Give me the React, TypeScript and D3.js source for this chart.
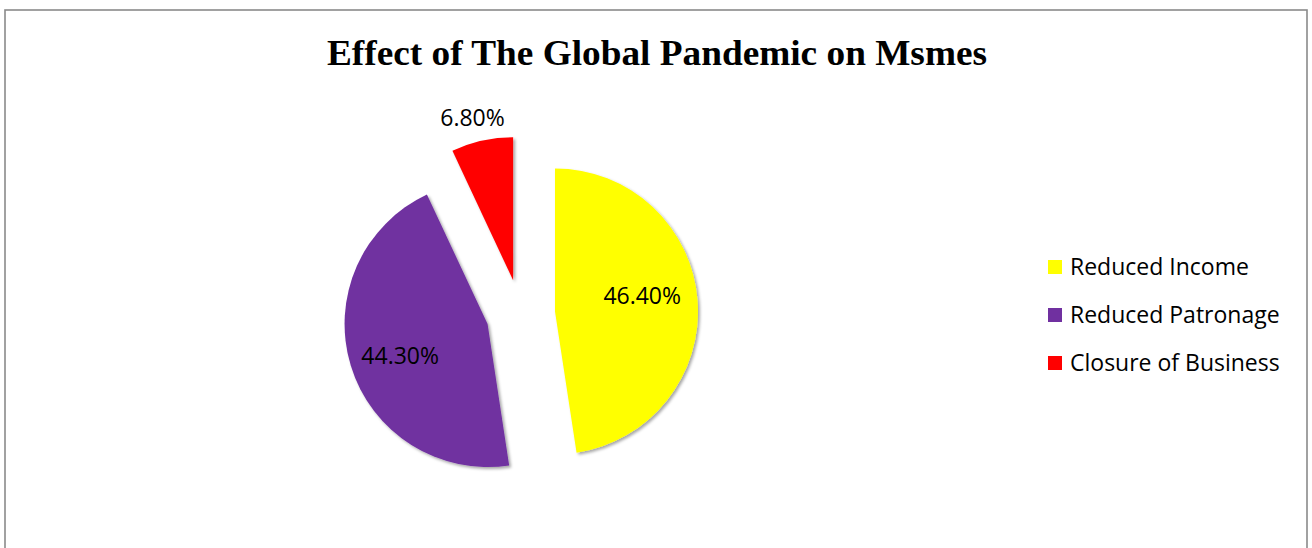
import React from "react";
import * as d3 from "d3";

// Share of MSMEs reporting each effect of the pandemic (percent)
const categories: string[] = ["Reduced Income", "Reduced Patronage", "Closure of Business"];
const values: number[] = [46.4, 44.3, 6.8];
const colors: string[] = ["#FFFF00", "#7030A0", "#FF0000"];
const labelText: string[] = ["46.40%", "44.30%", "6.80%"];
// label placement: angle offset from slice bisector (deg) and radius fraction
const labelAngleShift: number[] = [-6, -3, -1.5];
const labelRadius: number[] = [0.62, 0.65, 1.17];

const W = 1312;
const H = 548;
const cx = 520.6;
const cy = 314;
const R = 143;
const explode = 34.5;

export default function App() {
  const pie = d3
    .pie<number>()
    .sort(null)
    .value((d) => d);
  const arcs = pie(values);
  const arcGen = d3.arc<d3.PieArcDatum<number>>().innerRadius(0).outerRadius(R);

  const colorScale = d3.scaleOrdinal<string, string>().domain(categories).range(colors);

  const legendY = d3.scalePoint<string>().domain(categories).range([267, 363]);

  return (
    <svg
      width={W}
      height={H}
      style={{ position: "absolute", left: 0, top: 0, background: "#fff" }}
    >
      <defs>
        <filter id="shadow" x="-20%" y="-20%" width="140%" height="140%">
          <feDropShadow dx="2" dy="2" stdDeviation="1.6" floodColor="#000" floodOpacity="0.35" />
        </filter>
      </defs>
      <rect x={0} y={0} width={W} height={H} fill="#fff" />
      <rect x={5} y={10} width={1302} height={560} fill="none" stroke="#8a8a8a" strokeWidth={1.6} />

      <text
        x={657}
        y={65}
        textAnchor="middle"
        fontFamily="'Liberation Serif', 'Times New Roman', serif"
        fontWeight="bold"
        fontSize={35}
        textLength={660}
        lengthAdjust="spacingAndGlyphs"
        fill="#000"
      >
        Effect of The Global Pandemic on Msmes
      </text>

      {arcs.map((a, i) => {
        const mid = (a.startAngle + a.endAngle) / 2;
        const ox = Math.sin(mid) * explode;
        const oy = -Math.cos(mid) * explode;
        const la = mid + (labelAngleShift[i] * Math.PI) / 180;
        const lr = labelRadius[i] * R;
        const lx = Math.sin(la) * lr;
        const ly = -Math.cos(la) * lr;
        return (
          <g key={categories[i]} transform={`translate(${cx + ox},${cy + oy})`}>
            <path d={arcGen(a) || ""} fill={colorScale(categories[i])} filter="url(#shadow)" />
            <text
              x={lx}
              y={ly}
              dy="0.35em"
              textAnchor="middle"
              fontFamily="'Open Sans', 'Noto Sans', sans-serif"
              fontSize={23}
              fill="#000"
            >
              {labelText[i]}
            </text>
          </g>
        );
      })}

      {categories.map((c) => (
        <g key={c} transform={`translate(1048,${legendY(c)})`}>
          <rect x={0} y={-7} width={14} height={14} fill={colorScale(c)} />
          <text
            x={22}
            y={0}
            dy="0.35em"
            fontFamily="'Open Sans', 'Noto Sans', sans-serif"
            fontSize={23}
            fill="#000"
          >
            {c}
          </text>
        </g>
      ))}
    </svg>
  );
}
